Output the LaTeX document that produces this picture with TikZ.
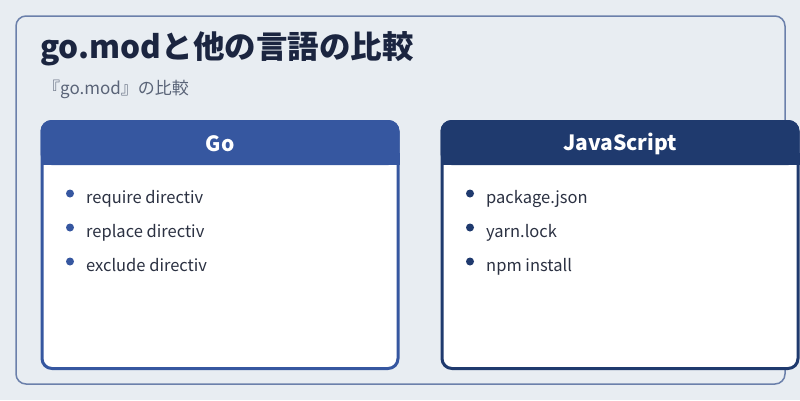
\documentclass[tikz,border=0pt]{standalone}
\usepackage{fontspec}
\setmainfont{Noto Sans CJK JP}
\usepackage{tikz}
\usetikzlibrary{positioning}
\definecolor{bgcol}{HTML}{E8EDF2}
\definecolor{framecol}{HTML}{6B80AB}
\definecolor{goblue}{HTML}{3657A0}
\definecolor{jsnavy}{HTML}{1F3A6E}
\definecolor{titlecol}{HTML}{1B2540}
\definecolor{subcol}{HTML}{5A6478}
\definecolor{itemcol}{HTML}{2B3142}

\begin{document}
\begin{tikzpicture}[
  x=1pt, y=-1pt,
  panel/.style={draw=framecol, line width=1.5pt, rounded corners=10pt,
    minimum width=769pt, minimum height=368pt, inner sep=0pt},
  card/.style={rectangle, rounded corners=10pt, fill=white, outer sep=0pt,
    inner sep=0pt, minimum width=356pt, minimum height=247pt},
  cardline/.style={line width=3pt, rounded corners=10pt},
  cardhead/.style={text=white, font=\bfseries\fontsize{21}{24}\selectfont,
    minimum width=359pt, minimum height=45pt, inner sep=0pt, outer sep=0pt},
  dot/.style={circle, inner sep=0pt, minimum size=8pt},
  item/.style={anchor=base west, inner sep=0pt, text=itemcol,
    font=\fontsize{16.5}{18}\selectfont},
]
  \fill[bgcol] (0,0) rectangle (800,400);
  \useasboundingbox (0,0) rectangle (800,400);

  \node[panel] (frame) at (400.5,200) {};
  \node[anchor=base west, inner sep=0pt, text=titlecol,
    font=\bfseries\fontsize{31.5}{36}\selectfont] (title) at (40,58) {go.modと他の言語の比較};
  \node[anchor=base west, inner sep=0pt, text=subcol,
    font=\fontsize{17}{20}\selectfont] (subtitle) at (43,94) {『go.mod』の比較};

  % Go
  \node[card] (gocard) at (220,245) {};
  \node[cardhead, anchor=north] (gohead) at ([yshift=1.5pt]gocard.north) {Go};
  \fill[goblue, rounded corners=11pt] (gohead.south west) rectangle (gohead.north east);
  \fill[goblue] ([yshift=12pt]gohead.south west) rectangle (gohead.south east);
  \node[cardhead, anchor=north] at ([yshift=0pt]gocard.north) {Go};
  \draw[cardline, goblue] (gocard.south west) rectangle (gocard.north east);
  \foreach \txt [count=\i] in {require directiv, replace directiv, exclude directiv} {
    \node[dot, fill=goblue] (godot\i) at (70,159.5+34*\i) {};
    \node[item] (goitem\i) at (86,169+34*\i) {\txt};
  }

  % JavaScript
  \node[card] (jscard) at (620,245) {};
  \node[cardhead, anchor=north] (jshead) at ([yshift=1.5pt]jscard.north) {JavaScript};
  \fill[jsnavy, rounded corners=11pt] (jshead.south west) rectangle (jshead.north east);
  \fill[jsnavy] ([yshift=12pt]jshead.south west) rectangle (jshead.south east);
  \node[cardhead, anchor=north] at ([yshift=0pt]jscard.north) {JavaScript};
  \draw[cardline, jsnavy] (jscard.south west) rectangle (jscard.north east);
  \foreach \txt [count=\i] in {package.json, yarn.lock, npm install} {
    \node[dot, fill=jsnavy] (jsdot\i) at (470,159.5+34*\i) {};
    \node[item] (jsitem\i) at (486,169+34*\i) {\txt};
  }
\end{tikzpicture}
\end{document}
